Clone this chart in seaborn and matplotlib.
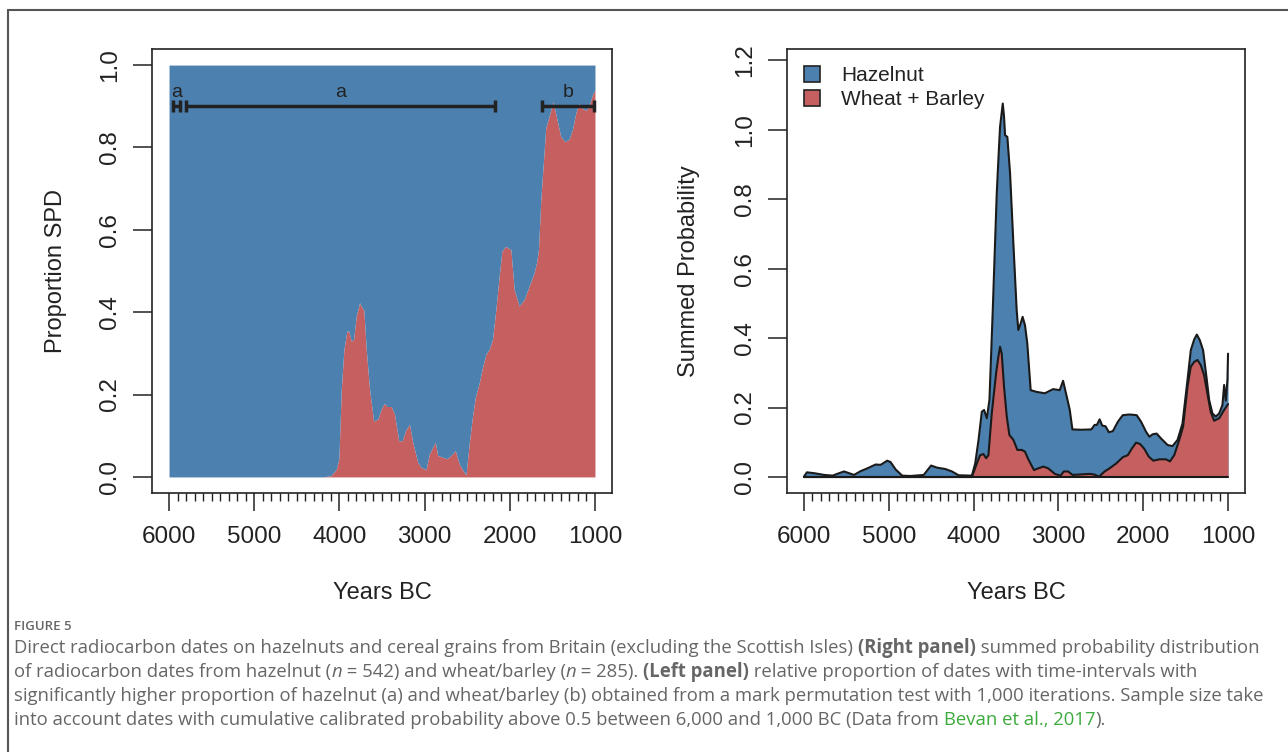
import numpy as np
import pandas as pd
import matplotlib
matplotlib.use("Agg")
import matplotlib.pyplot as plt
import seaborn as sns
from matplotlib.patches import Patch
from matplotlib.ticker import MultipleLocator, FormatStrFormatter

# Left panel: proportion of SPD from wheat + barley (rest is hazelnut)
prop_years = [6000, 4200, 4100, 4036, 4006, 3978, 3947, 3912, 3889, 3861, 3834, 3802, 3763,
              3740, 3713, 3685, 3646, 3599, 3549, 3509, 3471, 3444, 3392, 3354, 3303,
              3263, 3225, 3178, 3139, 3081, 3041, 2983, 2944, 2874, 2846, 2788, 2737,
              2690, 2639, 2593, 2534, 2514, 2475, 2437, 2405, 2358, 2320, 2280, 2241,
              2203, 2163, 2133, 2093, 2050, 1987, 1948, 1890, 1831, 1773, 1714, 1686,
              1663, 1636, 1578, 1539, 1492, 1453, 1402, 1351, 1304, 1265, 1226, 1187,
              1148, 1109, 1070, 1031, 1012, 1000]
prop_wheat = [0.0, 0.0, 0.003, 0.019, 0.044, 0.213, 0.31, 0.354, 0.354, 0.33, 0.334, 0.391, 0.423,
              0.413, 0.405, 0.31, 0.213, 0.136, 0.14, 0.165, 0.179, 0.171, 0.171, 0.153, 0.088,
              0.088, 0.112, 0.128, 0.084, 0.036, 0.023, 0.018, 0.056, 0.084, 0.052, 0.048, 0.044,
              0.052, 0.064, 0.031, 0.011, 0.005, 0.084, 0.148, 0.193, 0.229, 0.266, 0.298, 0.31,
              0.334, 0.407, 0.471, 0.548, 0.56, 0.552, 0.455, 0.415, 0.431, 0.463, 0.496, 0.52,
              0.552, 0.673, 0.847, 0.875, 0.911, 0.875, 0.826, 0.814, 0.82, 0.843, 0.883, 0.907,
              0.895, 0.89, 0.9, 0.927, 0.935, 0.94]

# significant intervals: (start, end, label)
int_start = [5950, 5800, 1620]
int_end = [5870, 2170, 1010]
int_label = ["a", "a", "b"]

# Right panel: summed probability (total = hazelnut + wheat/barley)
tot_years = [6000, 5965, 5879, 5762, 5663, 5586, 5527, 5468, 5410, 5331, 5252, 5155, 5096,
             5018, 4979, 4920, 4842, 4744, 4588, 4501, 4431, 4333, 4255, 4177, 4020, 3981,
             3942, 3903, 3876, 3844, 3813, 3774, 3727, 3708, 3688, 3656, 3641, 3629, 3602,
             3570, 3531, 3492, 3473, 3445, 3422, 3394, 3367, 3327, 3257, 3160, 3062, 2984,
             2945, 2906, 2866, 2835, 2729, 2612, 2573, 2546, 2514, 2483, 2444, 2405, 2358,
             2299, 2241, 2162, 2077, 2025, 1966, 1927, 1889, 1842, 1790, 1712, 1654, 1595,
             1537, 1478, 1439, 1399, 1368, 1333, 1294, 1255, 1223, 1184, 1144, 1105, 1066,
             1046, 1026, 1007, 1000]
tot_spd = [0.001, 0.0135, 0.011, 0.006, 0.004, 0.011, 0.016, 0.011, 0.006, 0.017, 0.025, 0.036, 0.035,
           0.047, 0.043, 0.022, 0.004, 0.003, 0.006, 0.033, 0.027, 0.023, 0.016, 0.005, 0.004, 0.039,
           0.106, 0.188, 0.193, 0.169, 0.222, 0.48, 0.816, 0.912, 1.008, 1.075, 1.037, 0.984, 0.979,
           0.874, 0.673, 0.48, 0.423, 0.442, 0.461, 0.437, 0.385, 0.25, 0.245, 0.241, 0.253, 0.25,
           0.277, 0.236, 0.193, 0.137, 0.136, 0.137, 0.15, 0.15, 0.166, 0.148, 0.146, 0.129, 0.132,
           0.159, 0.178, 0.18, 0.178, 0.159, 0.13, 0.116, 0.123, 0.125, 0.111, 0.092, 0.089, 0.107,
           0.154, 0.279, 0.365, 0.396, 0.41, 0.394, 0.365, 0.289, 0.222, 0.183, 0.174, 0.183, 0.207,
           0.265, 0.22, 0.28, 0.355]

wb_years = [6000, 4020, 3962, 3923, 3884, 3852, 3825, 3786, 3735, 3708, 3688, 3668, 3641, 3609,
            3578, 3531, 3484, 3433, 3394, 3355, 3288, 3237, 3178, 3120, 3042, 2975, 2936, 2885,
            2834, 2631, 2573, 2522, 2455, 2397, 2319, 2241, 2182, 2131, 2084, 2037, 1987, 1936,
            1881, 1810, 1732, 1685, 1634, 1575, 1530, 1478, 1440, 1400, 1360, 1321, 1282, 1243,
            1204, 1164, 1105, 1046, 1007, 1000]
wb_spd = [0.0, 0.0, 0.039, 0.063, 0.066, 0.054, 0.063, 0.183, 0.298, 0.346, 0.375, 0.355, 0.26, 0.174,
          0.121, 0.107, 0.078, 0.078, 0.073, 0.051, 0.02, 0.025, 0.03, 0.025, 0.009, 0.004, 0.016, 0.016,
          0.006, 0.009, 0.007, 0.001, 0.016, 0.025, 0.039, 0.057, 0.063, 0.083, 0.099, 0.095, 0.081, 0.059,
          0.047, 0.051, 0.051, 0.045, 0.063, 0.107, 0.145, 0.26, 0.317, 0.331, 0.337, 0.322, 0.293, 0.24,
          0.187, 0.162, 0.169, 0.193, 0.207, 0.21]

series_names = ["Hazelnut", "Wheat + Barley"]
blue = "#4C80AF"
red = "#C65F5F"
ink = "#222222"

sns.set_theme(style="white")
plt.rcParams["font.family"] = ["Liberation Sans", "DejaVu Sans"]

fig = plt.figure(figsize=(12.88, 7.52), dpi=100)
W, H = 1288, 752

def px_axes(left, top, right, bottom):
    return fig.add_axes([left / W, 1 - bottom / H, (right - left) / W, (bottom - top) / H])

ax1 = px_axes(152, 49, 612, 493)
ax2 = px_axes(787, 49, 1245, 493)

# ---- left panel
ax1.fill_between(prop_years, 0, prop_wheat, color=red, linewidth=0)
ax1.fill_between(prop_years, prop_wheat, 1, color=blue, linewidth=0)
mids = [(s + e) / 2 for s, e in zip(int_start, int_end)]
halfs = [(s - e) / 2 for s, e in zip(int_start, int_end)]
ax1.errorbar(mids, [0.9] * 3, xerr=halfs, fmt="none", ecolor=ink,
             elinewidth=2.5, capsize=4, capthick=2.5)
for m, lab in zip(mids, int_label):
    ax1.text(m, 0.912, lab, ha="center", va="bottom", fontsize=14, color=ink)
ax1.set_ylim(-0.039, 1.039)
ax1.set_ylabel("Proportion SPD", fontsize=17, color=ink)
ax1.yaxis.set_label_coords(-0.185, 0.5)

# ---- right panel
df_tot = pd.DataFrame({"year": tot_years, "spd": tot_spd})
df_wb = pd.DataFrame({"year": wb_years, "spd": wb_spd})
ax2.fill_between(tot_years, 0, tot_spd, color=blue, linewidth=0)
sns.lineplot(data=df_tot, x="year", y="spd", ax=ax2, color="#1a1a1a", linewidth=1.5)
ax2.fill_between(wb_years, 0, wb_spd, color=red, linewidth=0)
sns.lineplot(data=df_wb, x="year", y="spd", ax=ax2, color="#1a1a1a", linewidth=1.5)
ax2.plot([6000, 1000], [0, 0], color="#1a1a1a", linewidth=1.5)
ax2.set_ylim(-0.046, 1.232)
ax2.set_ylabel("Summed Probability", fontsize=17, color=ink)
ax2.yaxis.set_label_coords(-0.19, 0.5)
handles = [Patch(facecolor=c, edgecolor=ink, linewidth=1.2) for c in (blue, red)]
ax2.legend(handles, series_names, loc="upper left", frameon=False, fontsize=15,
           handlelength=0.8, handleheight=0.8, handletextpad=1.0, labelspacing=0.25,
           borderaxespad=0.4, labelcolor=ink)

for ax in (ax1, ax2):
    ax.set_xlim(6200, 800)
    ax.set_xticks(np.arange(1000, 6001, 1000))
    ax.set_xticks(np.arange(1000, 6001, 100), minor=True)
    ax.set_xticklabels([str(v) for v in range(1000, 6001, 1000)])
    ax.yaxis.set_major_locator(MultipleLocator(0.2))
    ax.yaxis.set_major_formatter(FormatStrFormatter("%.1f"))
    ax.tick_params(axis="x", which="major", direction="out", length=13, width=1.1,
                   color=ink, labelsize=17.5, labelcolor=ink, pad=11, bottom=True)
    ax.tick_params(axis="x", which="minor", direction="out", length=6, width=1.0,
                   color=ink, bottom=True)
    ax.tick_params(axis="y", which="major", direction="out", length=14, width=1.1,
                   color=ink, labelsize=17.5, labelcolor=ink, pad=8, left=True,
                   labelrotation=90)
    for lab in ax.get_yticklabels():
        lab.set_va("center")
    for sp in ax.spines.values():
        sp.set_color(ink)
        sp.set_linewidth(1.2)
    ax.set_xlabel("Years BC", fontsize=17, color=ink)
    ax.xaxis.set_label_coords(0.5, -0.2)
    ax.set_facecolor("white")

# outer frame of the figure panel
fig.add_artist(plt.Line2D([8 / W, 1], [1 - 10 / H, 1 - 10 / H], color="#555555", linewidth=1.5))
fig.add_artist(plt.Line2D([8 / W, 8 / W], [0, 1 - 10 / H], color="#555555", linewidth=1.5))

# caption
cap_color = "#666666"
cap_font = ["Open Sans", "DejaVu Sans"]
cap_size = 13.35
fig.text(14 / W, 1 - 627 / H, "FIGURE 5", fontsize=9.5, color=cap_color, family=cap_font,
         va="center", fontweight="semibold")

caption_lines = [
    [("Direct radiocarbon dates on hazelnuts and cereal grains from Britain (excluding the Scottish Isles) ", {}),
     ("(Right panel)", {"fontweight": "bold"}),
     (" summed probability distribution", {})],
    [("of radiocarbon dates from hazelnut (", {}), ("n", {"style": "italic"}),
     (" = 542) and wheat/barley (", {}), ("n", {"style": "italic"}), (" = 285). ", {}),
     ("(Left panel)", {"fontweight": "bold"}),
     (" relative proportion of dates with time-intervals with", {})],
    [("significantly higher proportion of hazelnut (a) and wheat/barley (b) obtained from a mark "
      "permutation test with 1,000 iterations. Sample size take", {})],
    [("into account dates with cumulative calibrated probability above 0.5 between 6,000 and 1,000 BC "
      "(Data from ", {}), ("Bevan et al., 2017", {"color": "#3DAA3D"}), (").", {})],
]
line_y = [648, 672, 696, 720]

renderer = fig.canvas.get_renderer()
for yy, segs in zip(line_y, caption_lines):
    x = 14 / W
    for txt, kw in segs:
        opts = {"fontsize": cap_size, "color": cap_color, "family": cap_font, "va": "center"}
        opts.update(kw)
        t = fig.text(x, 1 - yy / H, txt, **opts)
        x += t.get_window_extent(renderer).width / W

fig.savefig("out.png", dpi=100, facecolor="white")
